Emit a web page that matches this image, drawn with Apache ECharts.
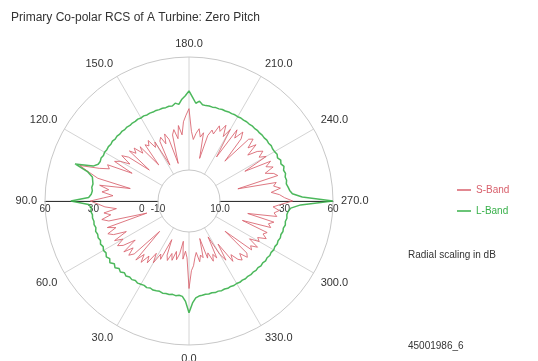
<!DOCTYPE html>
<html>
<head>
<meta charset="utf-8">
<script src="https://cdn.jsdelivr.net/npm/echarts@6/dist/echarts.min.js"></script>
<style>
html,body{margin:0;padding:0;background:#fff;}
#chart{width:538px;height:361px;}
</style>
</head>
<body>
<div id="chart"></div>
<script>
// Angles (degrees) every 2 degrees
var angles = [];
for (var a = 0; a < 360; a += 2) angles.push(a);

// S-Band RCS (dB), one value per angle above
var sBand = [
  25, 6, 2, 7, -4, 4, 8, 3, 9, 5, 10, 7, -3, 11, 8,
  15, 9, 17, 13, 19, 14, 20, -3, 18, 21, 16, 22, 12, 20, 23,
  18, 23, 14, 22, 25, 19, 24, -2, 22, 26, 20, 24, 16, 23, 27,
  32, 24, 18, 25, 21, 27, 8, 29, 35, 42, 30, 24, 26, 10, 23,
  20, 14, 21, 17, 2, 19, 15, 18, 12, 16, 0, 15, 13, 16, 10,
  13, -4, 12, 14, 9, 15, 11, -5, 13, 16, 10, 18, 12, 20, 24,
  28, 14, 9, 13, 16, 11, 14, -2, 13, 17, 15, 21, 18, 23, 16,
  22, 3, 24, 19, 25, 21, 4, 24, 26, 20, 25, 17, 23, 26, 22,
  26, 10, 27, 23, 27, 21, 26, 28, 2, 26, 24, 28, 22, 27, 30,
  35, 28, 23, 27, 24, 26, 8, 25, 22, 24, 6, 23, 21, 24, 19,
  21, 15, 22, 18, 20, 0, 19, 21, 16, 20, 18, 13, 17, 3, 14,
  9, -4, 10, 7, 11, 5, 8, -5, 7, 5, 9, 3, 6, 11, 14
];

// L-Band RCS (dB)
var lBand = [
  40, 33, 30, 29.5, 30, 29.5, 30, 29.8, 30.2, 29.6, 30, 30.3, 29.8, 30.5, 30,
  30.4, 30.8, 30.2, 31, 30.5, 31.5, 30.6, 32, 31, 32.5, 31.2, 33, 31.5, 32.6, 31.4,
  32, 31, 31.8, 30.8, 31.5, 31, 31.6, 30.8, 31.4, 31, 31.5, 31.2, 32, 31.4, 33,
  44, 33, 31.5, 31, 31.6, 31.2, 31.8, 32.5, 36, 45, 34, 31.5, 31, 31.4, 30.8,
  31.2, 30.8, 31, 30.6, 31, 30.5, 30.8, 30.4, 30.7, 30.3, 30.6, 30.2, 30.5, 30.3, 30.6,
  30.2, 30.5, 30.1, 30.4, 30.2, 30.5, 30.3, 30.6, 30.4, 30.8, 30.5, 32, 31, 34, 36,
  39, 35, 31.5, 33, 31, 30.8, 31, 30.7, 31, 30.8, 31.1, 30.9, 31.2, 31, 31.3,
  31.1, 31.4, 31.2, 31.5, 31.3, 31.6, 31.4, 31.7, 31.5, 31.8, 31.6, 32, 31.7, 32.2, 31.8,
  32, 32.6, 31.8, 33, 32.2, 33.4, 32.4, 33, 32.2, 32.6, 32, 32.8, 33.5, 35, 41,
  60, 40, 34, 32.5, 32, 32.4, 31.8, 32.3, 31.6, 32, 31.4, 31.8, 31.2, 31.6, 31,
  31.4, 30.8, 31.2, 30.6, 31, 30.4, 30.8, 30.2, 30.6, 30.1, 30.4, 30, 30.3, 29.9, 30.2,
  29.8, 30.1, 29.7, 30, 29.6, 29.9, 29.5, 29.8, 29.4, 29.7, 29.5, 29.8, 30, 31, 34
];

// Tick labels
var angleTickValues = [0, 30, 60, 90, 120, 150, 180, 210, 240, 270, 300, 330];
var angleTickLabels = ['0.0', '30.0', '60.0', '90.0', '120.0', '150.0', '180.0', '210.0', '240.0', '270.0', '300.0', '330.0'];
var leftRadialValues = [-10, 0, 30, 60];
var leftRadialLabels = ['-10', '0', '30', '60'];
var rightRadialValues = [-10, 30, 60];
var rightRadialLabels = ['10.0', '30', '60'];

var seriesNames = ['S-Band', 'L-Band'];
var titleText = 'Primary Co-polar RCS of A Turbine: Zero Pitch';
var noteText = 'Radial scaling in dB';
var idText = '45001986_6';

var RED = '#d8606c';
var GREEN = '#38b04a';

function toPolar(vals) {
  var d = [];
  for (var i = 0; i < angles.length; i++) d.push([vals[i], angles[i]]);
  d.push([vals[0], 360]);
  return d;
}
function lookup(values, labels) {
  return function (v) {
    var i = values.indexOf(v);
    return i >= 0 ? labels[i] : '';
  };
}

var center = [189, 201];
var radius = [31, 144];

var chart = echarts.init(document.getElementById('chart'), null, {renderer: 'canvas'});
chart.setOption({
  animation: false,
  backgroundColor: '#fff',
  title: [
    {text: titleText, left: 6, top: 7, textStyle: {fontFamily: 'Liberation Sans', fontSize: 12, fontWeight: 'normal', color: '#333'}},
    {text: noteText, left: 403, top: 245, textStyle: {fontFamily: 'Liberation Sans', fontSize: 10, fontWeight: 'normal', color: '#333'}},
    {text: idText, left: 403, top: 336, textStyle: {fontFamily: 'Liberation Sans', fontSize: 10, fontWeight: 'normal', color: '#333'}}
  ],
  legend: {
    orient: 'vertical', left: 452, top: 180, icon: 'rect', itemWidth: 14, itemHeight: 1.5, itemGap: 11,
    textStyle: {fontFamily: 'Liberation Sans', fontSize: 10},
    data: [
      {name: seriesNames[0], textStyle: {color: RED}},
      {name: seriesNames[1], textStyle: {color: GREEN}}
    ]
  },
  polar: [
    {center: center, radius: radius},
    {center: center, radius: radius},
    {center: center, radius: radius}
  ],
  angleAxis: [
    {
      polarIndex: 0, type: 'value', min: 0, max: 360, interval: 30, startAngle: 270, clockwise: true,
      axisLine: {lineStyle: {color: '#c8c8c8', width: 1}},
      axisTick: {show: false},
      axisLabel: {margin: 8, color: '#333', fontFamily: 'Liberation Sans', fontSize: 11, formatter: lookup(angleTickValues, angleTickLabels)},
      splitLine: {show: true, lineStyle: {color: '#d4d4d4', width: 1}}
    },
    {polarIndex: 1, type: 'value', min: 0, max: 360, startAngle: 180, show: false},
    {polarIndex: 2, type: 'value', min: 0, max: 360, startAngle: 0, show: false}
  ],
  radiusAxis: [
    {polarIndex: 0, type: 'value', min: -10, max: 60, show: false},
    {
      polarIndex: 1, type: 'value', min: -10, max: 60,
      axisLine: {lineStyle: {color: '#333', width: 1}},
      axisTick: {show: false},
      splitLine: {show: false},
      axisLabel: {customValues: leftRadialValues, formatter: lookup(leftRadialValues, leftRadialLabels), color: '#333', fontFamily: 'Liberation Sans', fontSize: 10, margin: 3}
    },
    {
      polarIndex: 2, type: 'value', min: -10, max: 60,
      axisLine: {lineStyle: {color: '#333', width: 1}},
      axisTick: {show: false},
      splitLine: {show: false},
      axisLabel: {margin: -3, verticalAlign: 'top', customValues: rightRadialValues, formatter: lookup(rightRadialValues, rightRadialLabels), color: '#333', fontFamily: 'Liberation Sans', fontSize: 10}
    }
  ],
  series: [
    {name: seriesNames[0], type: 'line', coordinateSystem: 'polar', polarIndex: 0, data: toPolar(sBand), showSymbol: false, symbol: 'none', lineStyle: {color: RED, width: 1, opacity: 0.85}, itemStyle: {color: RED}, z: 3},
    {name: seriesNames[1], type: 'line', coordinateSystem: 'polar', polarIndex: 0, data: toPolar(lBand), showSymbol: false, symbol: 'none', lineStyle: {color: GREEN, width: 1.5, opacity: 0.9}, itemStyle: {color: GREEN}, z: 4}
  ]
});
</script>
</body>
</html>
